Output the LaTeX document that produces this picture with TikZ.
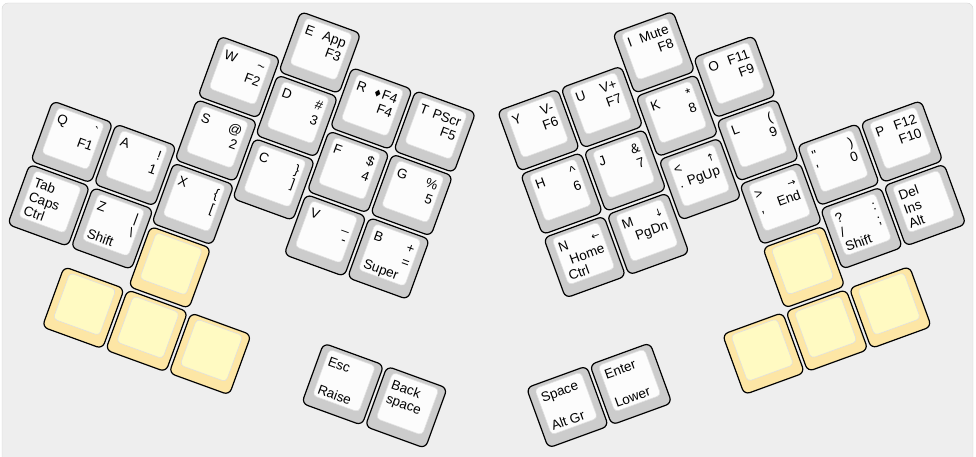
\documentclass[tikz,border=0pt]{standalone}
\usepackage{fontspec}
\usepackage{tikz}
\usetikzlibrary{positioning}
\newfontfamily\keyfont{Liberation Sans}
\newfontfamily\symfont{DejaVu Sans}
\definecolor{keygrey}{RGB}{204,204,204}
\definecolor{keygreytop}{RGB}{252,252,252}
\definecolor{keyyellow}{RGB}{253,230,165}
\definecolor{keyyellowtop}{RGB}{255,250,194}
\definecolor{board}{RGB}{238,238,238}
\definecolor{boardline}{RGB}{214,214,214}
\newcommand{\keysym}[1]{{\symfont\fontsize{10}{10}\selectfont #1}}
% name, position, colour, three left legends, three right legends
\newcommand{\keycap}[9]{%
  \begin{scope}[shift={(#2)}]
    \node[keybase=#3] (#1) at (0,0) {};
    \node[keytop=#3] (#1-top) at (0,-3.75) {};
    \node[legl] (#1-l1) at (-21.5,-12.5) {#4};
    \node[legl] (#1-l2) at (-21.5,2.5) {#5};
    \node[legl] (#1-l3) at (-21.5,17.5) {#6};
    \node[legr] (#1-r1) at (21.5,-12.5) {#7};
    \node[legr] (#1-r2) at (21.5,2.5) {#8};
    \node[legr] (#1-r3) at (21.5,17.5) {#9};
  \end{scope}}
\tikzset{
  keybase/.style={rectangle,draw=black,line width=1.2pt,rounded corners=6pt,
    fill=key#1,minimum size=64pt,inner sep=0pt,transform shape},
  keytop/.style={rectangle,draw=black!12,line width=0.6pt,rounded corners=4pt,
    fill=key#1top,minimum size=49pt,inner sep=0pt,transform shape},
  legl/.style={anchor=base west,inner sep=0pt,transform shape,
    font={\keyfont\fontsize{13.5}{15}\selectfont}},
  legr/.style={anchor=base east,inner sep=0pt,transform shape,
    font={\keyfont\fontsize{13.5}{15}\selectfont}}
}
\begin{document}
\begin{tikzpicture}[x=1pt,y=-1pt]
  \useasboundingbox (0,0) rectangle (976,457);
  \fill[board,draw=boardline,rounded corners=6pt] (2,3) rectangle (973,470);

  \begin{scope}[rotate=-20]
    \keycap{q}{116,108.8}{grey}{Q}{}{}{\textasciigrave}{F1}{}
    \keycap{tab}{116,176.3}{grey}{Tab}{Caps}{Ctrl}{}{}{}
    \keycap{a}{183.5,108.8}{grey}{A}{}{}{!}{1}{}
    \keycap{z}{183.5,176.3}{grey}{Z}{}{Shift}{\textbar}{\textbackslash}{}
    \keycap{w}{251,-9.3}{grey}{W}{}{}{\textasciitilde}{F2}{}
    \keycap{s}{251,58.2}{grey}{S}{}{}{@}{2}{}
    \keycap{x}{251,125.7}{grey}{X}{}{}{\{}{[}{}
    \keycap{e}{318.5,-60}{grey}{E}{}{}{App}{F3}{}
    \keycap{d}{318.5,7.5}{grey}{D}{}{}{\#}{3}{}
    \keycap{c}{318.5,75}{grey}{C}{}{}{\}}{]}{}
    \keycap{r}{386,-25}{grey}{R}{}{}{\keysym{♦}F4}{F4}{}
    \keycap{f}{386,42.5}{grey}{F}{}{}{\$}{4}{}
    \keycap{v}{386,110}{grey}{V}{}{}{\_}{-}{}
    \keycap{t}{453.5,-25}{grey}{T}{}{}{PScr}{F5}{}
    \keycap{g}{453.5,42.5}{grey}{G}{}{}{\%}{5}{}
    \keycap{b}{453.5,110}{grey}{B}{}{Super}{+}{=}{}
    \keycap{ly1}{251,193.2}{yellow}{}{}{}{}{}{}
    \keycap{ly2}{183.5,260.7}{yellow}{}{}{}{}{}{}
    \keycap{ly3}{251,260.7}{yellow}{}{}{}{}{}{}
    \keycap{ly4}{318.5,260.7}{yellow}{}{}{}{}{}{}
    \keycap{esc}{453.5,243.8}{grey}{Esc}{}{Raise}{}{}{}
    \keycap{bksp}{521,243.8}{grey}{Back}{space}{}{}{}{}
  \end{scope}

  \begin{scope}[rotate=20]
    \keycap{y}{461.5,306.5}{grey}{Y}{}{}{V-}{F6}{}
    \keycap{h}{461.5,374}{grey}{H}{}{}{\textasciicircum}{6}{}
    \keycap{n}{461.5,441.5}{grey}{N}{}{Ctrl}{\keysym{←}}{Home}{}
    \keycap{u}{529,306.5}{grey}{U}{}{}{V+}{F7}{}
    \keycap{j}{529,374}{grey}{J}{}{}{\&}{7}{}
    \keycap{m}{529,441.5}{grey}{M}{}{}{\keysym{↓}}{PgDn}{}
    \keycap{i}{596.5,272.75}{grey}{I}{}{}{Mute}{F8}{}
    \keycap{k}{596.5,340.25}{grey}{K}{}{}{*}{8}{}
    \keycap{pgup}{596.5,407.75}{grey}{<}{.}{}{\keysym{↑}}{PgUp}{}
    \keycap{o}{664,323.4}{grey}{O}{}{}{F11}{F9}{}
    \keycap{l}{664,390.9}{grey}{L}{}{}{(}{9}{}
    \keycap{endk}{664,458.4}{grey}{>}{,}{}{\keysym{→}}{End}{}
    \keycap{quote}{731.5,441.5}{grey}{\textquotedbl}{\textquotesingle}{}{)}{0}{}
    \keycap{slash}{731.5,509}{grey}{?}{/}{Shift}{:}{;}{}
    \keycap{p}{799,441.5}{grey}{P}{}{}{F12}{F10}{}
    \keycap{del}{799,509}{grey}{Del}{Ins}{Alt}{}{}{}
    \keycap{ry1}{664,525.9}{yellow}{}{}{}{}{}{}
    \keycap{ry2}{596.5,593.4}{yellow}{}{}{}{}{}{}
    \keycap{ry3}{664,593.4}{yellow}{}{}{}{}{}{}
    \keycap{ry4}{731.5,593.4}{yellow}{}{}{}{}{}{}
    \keycap{spc}{394,576.5}{grey}{Space}{}{Alt Gr}{}{}{}
    \keycap{enter}{461.5,576.5}{grey}{Enter}{}{Lower}{}{}{}
  \end{scope}
\end{tikzpicture}
\end{document}
